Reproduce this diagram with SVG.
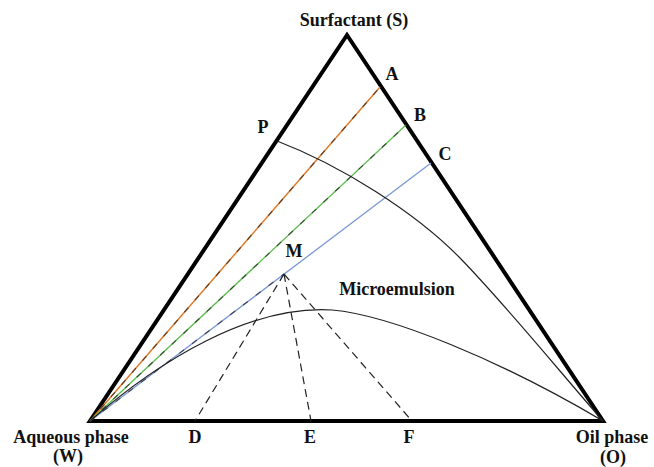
<svg xmlns="http://www.w3.org/2000/svg" width="654" height="467" viewBox="0 0 654 467">
<style>
.lbl{font-family:"Liberation Serif","Times New Roman",serif;font-weight:bold;font-size:18px;fill:#111;text-anchor:middle}
.thin{fill:none;stroke:#222;stroke-width:1.2}
.dash{fill:none;stroke:#222;stroke-width:1.2;stroke-dasharray:8 5}
.ovl{fill:none;stroke:#222;stroke-width:1.2;stroke-dasharray:6 10;opacity:0.7}
</style>
<rect width="654" height="467" fill="#fff"/>
<g id="triangle">
<polygon points="347,35 90,421 603,421" fill="none" stroke="#000" stroke-width="4" stroke-linejoin="miter"/>
</g>
<g id="connectors">
<line x1="90" y1="421" x2="380" y2="87" stroke="#e07b2a" stroke-width="1.5"/>
<line x1="90" y1="421" x2="380" y2="87" class="ovl"/>
<line x1="90" y1="421" x2="406" y2="125" stroke="#5cbf4e" stroke-width="1.3"/>
<line x1="90" y1="421" x2="406" y2="125" class="ovl"/>
<line x1="90" y1="421" x2="431" y2="163" stroke="#7a98d6" stroke-width="1.3"/>
<line x1="90" y1="421" x2="284" y2="274" class="ovl" stroke-dasharray="3 3"/>
<path class="thin" d="M277,141 C340,165 415,212 460,258 S565,378 603,421"/>
<path class="thin" d="M90,421 C160,360 250,305 332,310 C390,315 500,360 603,421"/>
<line class="dash" x1="284" y1="274" x2="195" y2="421"/>
<line class="dash" x1="284" y1="274" x2="311" y2="421"/>
<line class="dash" x1="284" y1="274" x2="412" y2="421"/>
</g>
<g id="labels">
<text class="lbl" x="354" y="26">Surfactant (S)</text>
<text class="lbl" x="392" y="80">A</text>
<text class="lbl" x="420" y="121">B</text>
<text class="lbl" x="445" y="160">C</text>
<text class="lbl" x="263" y="133">P</text>
<text class="lbl" x="294" y="257">M</text>
<text class="lbl" x="397" y="295">Microemulsion</text>
<text class="lbl" x="71" y="443">Aqueous phase</text>
<text class="lbl" x="68" y="462">(W)</text>
<text class="lbl" x="195" y="443">D</text>
<text class="lbl" x="310" y="443">E</text>
<text class="lbl" x="409" y="443">F</text>
<text class="lbl" x="612" y="443">Oil phase</text>
<text class="lbl" x="613" y="463">(O)</text>
</g>
</svg>
